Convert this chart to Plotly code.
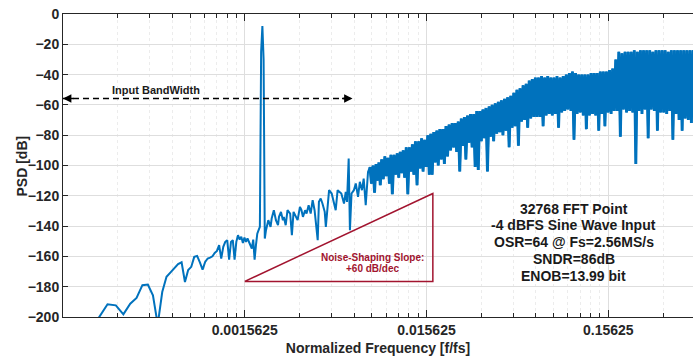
import math
import plotly.graph_objects as go

N_FFT = 32768

# ---- spectrum data (FFT bin index -> PSD dB) ----
low_bins = list(range(8, 67))
low_db = [-201, -191.6, -192.3, -198.2, -191.2, -187.4, -179, -178.6, -185.7, -205,
          -183.5, -173.5, -170.5, -168, -165, -163.9, -176.9, -169, -166.9, -160.3,
          -159.7, -164, -168.7, -163.6, -161.4, -160.8, -159.9, -157.7, -156.4, -152.6,
          -161.4, -153.7, -150.4, -149.3, -162.1, -150.4, -149.3, -162.1, -150.4, -146,
          -148.9, -147.1, -151.1, -147.6, -150.4, -148.2, -150.4, -152.5, -154.8, -148.9,
          -162.1, -152.6, -145, -142.7, -140.5, -25, -7.9, -30, -148.2]

mid_bins = [67, 69, 71, 72, 74, 76, 78, 79, 81, 83,
            84, 86, 88, 91, 93, 95, 98, 100, 103, 105,
            107, 110, 112, 115, 118, 121, 124, 129, 131, 134,
            137, 141, 143, 146, 149, 154, 158, 162, 166, 169,
            174, 180, 184, 187, 191, 194, 198, 204, 209, 215,
            220, 226, 231, 237, 244]
mid_db = [-142.7, -136.1, -140.5, -135, -129.5, -136.1, -139.4, -133.9, -130.6, -136.1,
          -133.9, -139.4, -129.5, -131.7, -146, -130.6, -133.9, -136.1, -127.3, -129.5,
          -133.9, -129.5, -131.7, -126.2, -131.7, -122.9, -129.5, -149.3, -124, -121.8,
          -125.1, -130.6, -140.5, -126.2, -116.3, -118.5, -125.1, -129.5, -116.3, -117.4,
          -118.5, -125.1, -117.4, -124, -95.4, -142.7, -118.5, -116.3, -111.9, -120.7,
          -110.8, -116.3, -108.6, -126.2, -104.2]

hi_bins = [250, 255, 260, 265, 270, 275, 280, 285, 290, 296,
           302, 308, 314, 320, 326, 332, 339, 346, 353, 360,
           367, 374, 381, 388, 396, 404, 412, 420, 428, 436,
           445, 454, 463, 472, 481, 490, 500, 510, 520, 530,
           540, 550, 561, 572, 583, 594, 606, 618, 630, 642,
           655, 668, 681, 694, 708, 722, 736, 750, 765, 780,
           795, 811, 827, 843, 860, 877, 894, 912, 930, 948,
           967, 986, 1005, 1025, 1045, 1066, 1087, 1108, 1130, 1152,
           1175, 1198, 1222, 1246, 1271, 1296, 1322, 1348, 1375, 1402,
           1430, 1458, 1487, 1516, 1546, 1577, 1608, 1640, 1672, 1705,
           1739, 1773, 1808, 1844, 1880, 1917, 1955, 1994, 2033, 2073,
           2114, 2156, 2199, 2242, 2286, 2331, 2377, 2424, 2472, 2521,
           2571, 2622, 2674, 2727, 2781, 2836, 2892, 2949, 3007, 3066,
           3127, 3189, 3252, 3316, 3382, 3449, 3517, 3587, 3658, 3730,
           3804, 3879, 3956, 4034, 4114, 4195, 4278, 4363, 4449, 4537,
           4627, 4718, 4811, 4906, 5003, 5102, 5203, 5306, 5411, 5518,
           5627, 5738, 5851, 5967, 6085, 6205, 6328, 6453, 6580, 6710,
           6843, 6978, 7116, 7257, 7400, 7546, 7695, 7847, 8002, 8160,
           8321, 8486, 8654, 8825, 8999, 9177, 9358, 9543, 9732, 9924,
           10120, 10320, 10524, 10732, 10944, 11160, 11380, 11605, 11834, 12068,
           12306, 12549, 12797, 13050, 13308, 13571, 13839, 14112, 14391, 14675,
           14965, 15261, 15562, 15870, 16183, 16384]
hi_db = [-101, -112, -100, -118, -99, -110, -98, -113, -96, -109,
         -94, -107, -95, -112, -93, -119, -93, -106, -92, -108,
         -91, -105, -90, -108, -88, -119, -88, -104, -86, -106,
         -84, -113, -84, -102, -82, -104, -83, -101, -80, -106,
         -79, -106, -78, -98, -77, -100, -76, -96, -76, -99,
         -74, -94, -73, -90, -72, -88, -72, -91, -71, -104,
         -69, -87, -68, -96, -67, -85, -66, -88, -66, -101,
         -64, -103, -64, -84, -63, -82, -62, -104, -61, -81,
         -60, -84, -59, -79, -58, -78, -57, -80, -56, -77,
         -55, -88, -54, -75, -52, -74, -50, -87, -49, -71,
         -47, -70, -46, -75, -44, -69, -43, -68, -42, -68,
         -42, -68, -41, -74, -42, -67, -41, -66, -42, -67,
         -42, -66, -41, -75, -42, -65, -41, -64, -40, -63,
         -39, -64, -38, -83, -39, -66, -40, -65, -40, -67,
         -40, -76, -40, -67, -39, -66, -39, -67, -39, -77,
         -38, -66, -38, -74, -38, -65, -37, -66, -36, -64,
         -30, -64, -25, -81, -26, -63, -25, -65, -25, -64,
         -25, -65, -24, -99, -25, -64, -24, -66, -24, -63,
         -24, -82, -24, -63, -25, -64, -24, -77, -24, -65,
         -24, -65, -24, -66, -25, -64, -24, -83, -24, -66,
         -24, -70, -24, -77, -24, -69, -24, -70, -24, -72,
         -24, -66, -24, -68, -24, -65]

assert len(low_bins) == len(low_db)
assert len(mid_bins) == len(mid_db)
assert len(hi_bins) == len(hi_db)

bins = low_bins + mid_bins + hi_bins
psd_db = low_db + mid_db + hi_db
freq = [b / N_FFT for b in bins]
hi_freq = [b / N_FFT for b in hi_bins]

# noise-shaping slope triangle (annotation)
slope_f = [0.0015625, 0.01693, 0.01693, 0.0015625]
slope_db = [-176.5, -176.5, -118.5, -176.5]

# input bandwidth arrow (annotation)
bw_f = [0.00015625, 0.00612]
bw_db = [-55.8, -55.8]

x_tickvals = [0.0015625, 0.015625, 0.15625]
x_ticktext = ["0.0015625", "0.015625", "0.15625"]
y_tickvals = [0, -20, -40, -60, -80, -100, -120, -140, -160, -180, -200]

info_lines = ["32768 FFT Point", "-4 dBFS Sine Wave Input", "OSR=64 @ Fs=2.56MS/s",
              "SNDR=86dB", "ENOB=13.99 bit"]
info_db = [-129.0, -139.6, -150.4, -161.4, -172.9]

FONT = "Liberation Sans, Arial, Helvetica, sans-serif"
AXC = "#262626"
BLUE = "#0072BD"
RED = "#A2142F"

minor_vals = []
for base in [0.00015625, 0.0015625, 0.015625, 0.15625]:
    for k in range(2, 10):
        minor_vals.append(base * k)

fig = go.Figure()
fig.add_trace(go.Scatter(x=freq, y=psd_db, mode="lines",
                         line=dict(color=BLUE, width=2), hoverinfo="skip"))
# dense high-frequency part drawn a little heavier so the band reads solid
fig.add_trace(go.Scatter(x=hi_freq, y=hi_db, mode="lines",
                         line=dict(color=BLUE, width=2.9), hoverinfo="skip"))
fig.add_trace(go.Scatter(x=slope_f, y=slope_db, mode="lines",
                         line=dict(color=RED, width=1.5), hoverinfo="skip"))
fig.add_trace(go.Scatter(x=bw_f, y=bw_db, mode="lines",
                         line=dict(color="black", width=1.5, dash="6px,4px"), hoverinfo="skip"))

annotations = []
annotations.append(dict(x=math.log10(bw_f[0]), y=bw_db[0], xref="x", yref="y", ax=12, ay=0,
                        showarrow=True, arrowhead=2, arrowsize=1.2, arrowwidth=1.4,
                        arrowcolor="black", text=""))
annotations.append(dict(x=math.log10(bw_f[1]), y=bw_db[1], xref="x", yref="y", ax=-12, ay=0,
                        showarrow=True, arrowhead=2, arrowsize=1.2, arrowwidth=1.4,
                        arrowcolor="black", text=""))
annotations.append(dict(x=-3.296, y=-50.2, xref="x", yref="y", showarrow=False,
                        text="Input BandWidth",
                        font=dict(family=FONT, size=11, color="#1a1a1a", weight="bold")))
annotations.append(dict(x=-2.1017, y=-160.5, xref="x", yref="y", showarrow=False,
                        text="Noise-Shaping Slope:",
                        font=dict(family=FONT, size=10, color=RED, weight="bold")))
annotations.append(dict(x=-2.1017, y=-167.9, xref="x", yref="y", showarrow=False,
                        text="+60 dB/dec",
                        font=dict(family=FONT, size=10, color=RED, weight="bold")))
for t, yv in zip(info_lines, info_db):
    annotations.append(dict(x=-0.9955, y=yv, xref="x", yref="y", showarrow=False, text=t,
                            font=dict(family=FONT, size=14, color="#1a1a1a", weight="bold")))
# y-axis title
annotations.append(dict(x=-0.0651, y=0.5, xref="paper", yref="paper", showarrow=False,
                        text="PSD [dB]", textangle=-90, xanchor="center", yanchor="middle",
                        font=dict(family=FONT, size=14, color=AXC, weight="bold")))

fig.update_layout(
    width=694, height=356,
    margin=dict(l=63, r=1, t=14, b=39),
    paper_bgcolor="white", plot_bgcolor="white",
    showlegend=False,
    font=dict(family=FONT, color=AXC),
    annotations=annotations,
)
fig.update_xaxes(
    type="log", range=[math.log10(0.00015625), math.log10(0.457)],
    tickmode="array", tickvals=x_tickvals, ticktext=x_ticktext,
    ticks="inside", ticklen=7, tickcolor=AXC, tickwidth=1,
    showline=True, linecolor=AXC, linewidth=1, mirror="ticks",
    showgrid=True, gridcolor="#dedede", gridwidth=1, zeroline=False,
    tickfont=dict(family=FONT, size=14, color=AXC, weight="bold"),
    title=dict(text="Normalized Frequency [f/fs]", standoff=6,
               font=dict(family=FONT, size=14, color=AXC, weight="bold")),
    minor=dict(tickmode="array", tickvals=minor_vals, ticks="inside", ticklen=4,
               tickcolor=AXC, showgrid=True, gridcolor="#ececec", griddash="dot"),
)
fig.update_yaxes(
    range=[-200, 0], tickmode="array", tickvals=y_tickvals,
    ticks="inside", ticklen=5, tickcolor=AXC,
    showline=True, linecolor=AXC, linewidth=1, mirror=False,
    showgrid=True, gridcolor="#dedede", gridwidth=1, zeroline=False,
    tickfont=dict(family=FONT, size=14, color=AXC, weight="bold"),
)

fig.write_html("out.html")
